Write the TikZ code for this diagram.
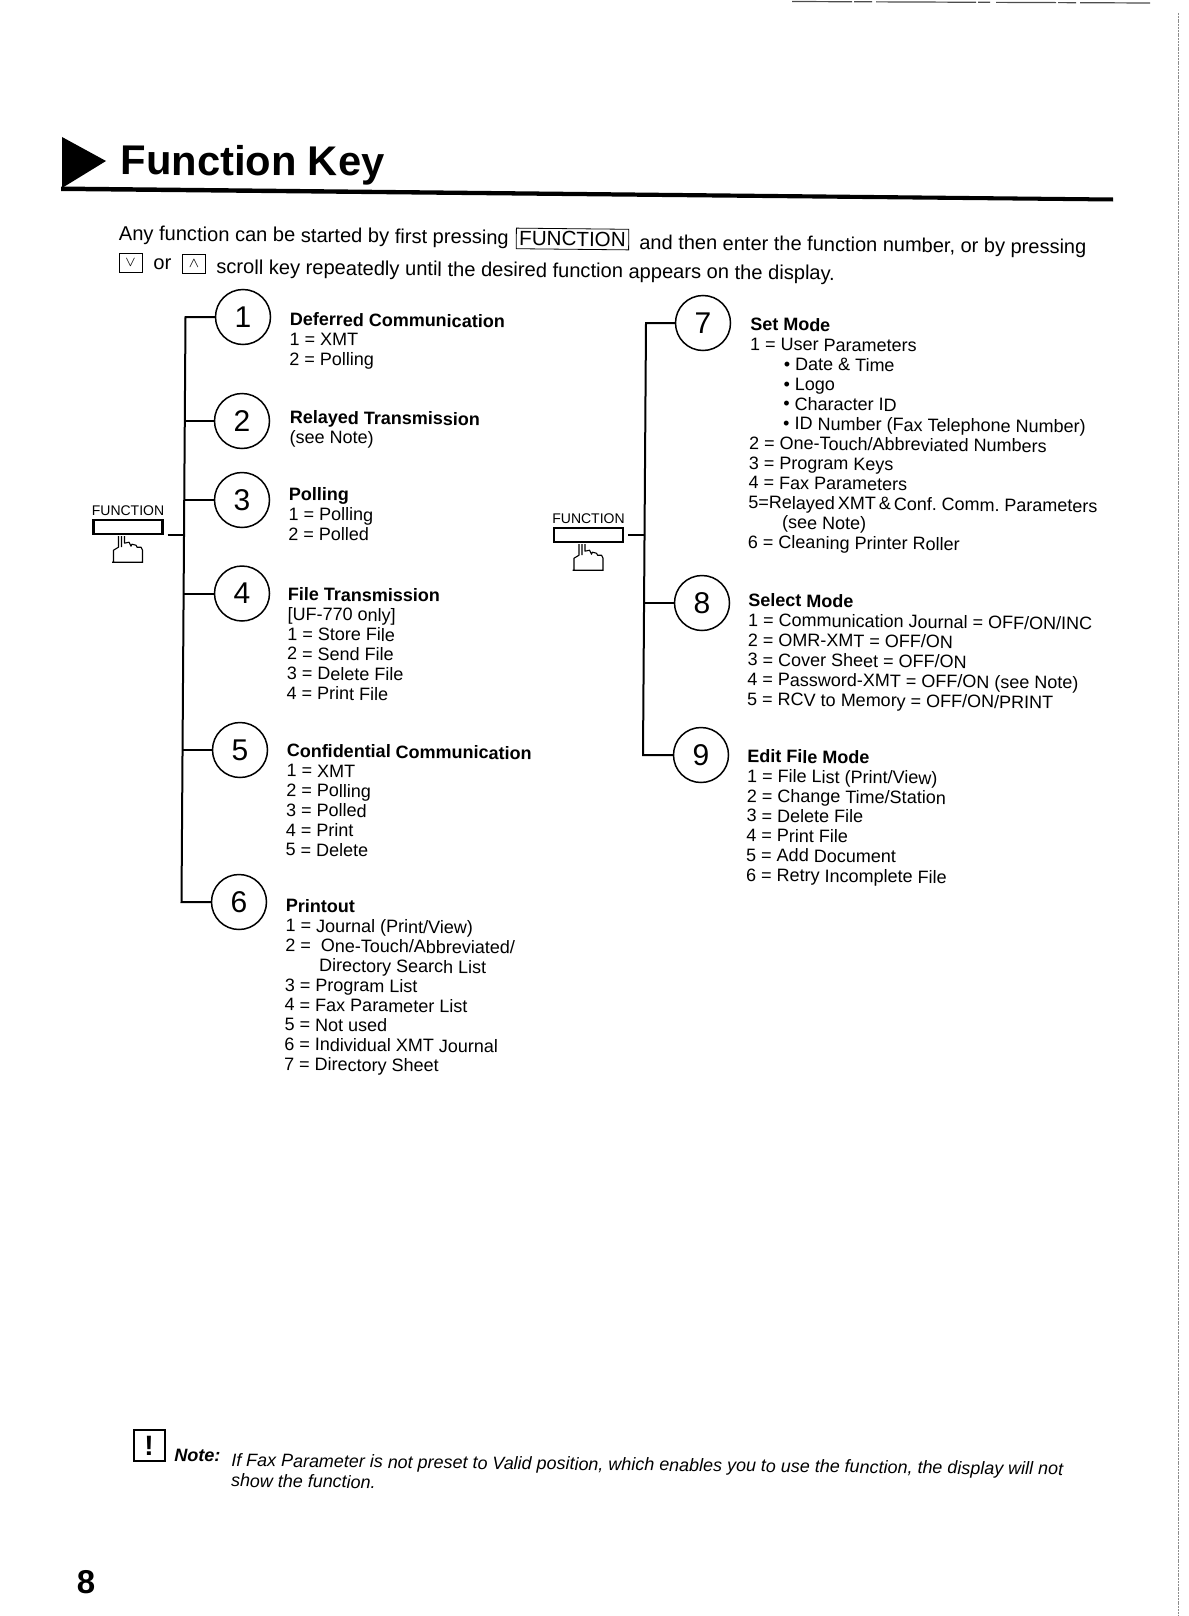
\documentclass[tikz,border=0pt]{standalone}
\usepackage{fontspec}
\setmainfont{Liberation Sans}
\usetikzlibrary{positioning}
\tikzset{
  body/.style={anchor=north west, align=left, inner sep=0pt, rotate=-0.6,
    font=\fontsize{9.0}{9.9}\selectfont},
  line1/.style={anchor=west, inner sep=0pt, rotate=-0.6,
    font=\fontsize{10.05}{12}\selectfont},
  num/.style={circle, draw=black, line width=0.75pt, fill=white, minimum size=27.5pt,
    inner sep=0pt, font=\fontsize{15}{15}\selectfont},
  trunk/.style={line width=1pt},
  keybox/.style={rectangle, draw=black, line width=1.2pt, minimum width=34.5pt,
    minimum height=7pt, inner sep=0pt},
  keylbl/.style={inner sep=0pt, font=\fontsize{7}{7}\selectfont},
  small/.style={rectangle, draw=black, line width=0.4pt, inner sep=0pt,
    minimum width=11.5pt, minimum height=9.5pt, font=\scriptsize},
  hand/.pic={
    \draw[line width=0.55pt, line join=round]
      (-14.5,27) -- (-14.5,15) -- (-9.5,12) -- (-9.5,1)
      (-6.5,1) -- (-6.5,12)
      (-3.5,1) -- (-3.5,8) -- (1,7) -- (3,11) -- (4,9) -- (8,10) -- (9,12) -- (13,12) -- (14.5,15) -- (14.5,27)
      (-16,27) -- (15,27);
  },
}
\begin{document}
\begin{tikzpicture}[x=0.5pt,y=-0.5pt]
\useasboundingbox (0,0) rectangle (1188,1616);
% scan marks
\draw[black!45, line width=0.8pt, dash pattern=on 1pt off 0.4pt] (1178.5,13) -- (1178.5,1616);
\draw[black!70, line width=0.6pt, dash pattern=on 30pt off 1pt on 9pt off 2pt on 50pt off 1pt on 6pt off 3pt] (792,1.5) -- (1150,3);
% heading
\fill[black] (62,137) -- (106,161) -- (62,188) -- cycle;
\fill[black] (61,186.5) -- (1113,197.5) -- (1113,201.5) -- (61,191) -- cycle;
\node[anchor=west, inner sep=0pt, rotate=-0.3, font=\fontsize{20.8}{24}\selectfont\bfseries] (title) at (120.5,164) {Function Key};
% intro
\node[line1] (any)  at (118.5,235) {Any function can be started by first pressing};
\node[rectangle, draw=black, line width=0.4pt, inner sep=1.5pt, rotate=-0.6, font=\fontsize{10.3}{12}\selectfont] (fkey) at (572.5,239) {FUNCTION};
\node[line1, font=\fontsize{10}{12}\selectfont] (then) at (639,244) {and then enter the function number, or by pressing};
\node[small] (down) at (130.5,263) {$\vee$};
\node[line1] (orw)  at (153,264.5) {or};
\node[small] (up)   at (194,264) {$\wedge$};
\node[line1] (scroll) at (216,268.5) {scroll key repeatedly until the desired function appears on the display.};
% keys
\node[keybox] (keyA) at (128,527) {};
\node[keylbl, above=1.5pt of keyA] (lblA) {FUNCTION};
\pic at (keyA.south) {hand};
\node[keybox] (keyB) at (588.5,535) {};
\node[keylbl, above=1.5pt of keyB] (lblB) {FUNCTION};
\pic at (keyB.south) {hand};
% circles
\node[num] (c1) at (243,317) {1};
\node[num] (c2) at (242,421) {2};
\node[num] (c3) at (242,500) {3};
\node[num] (c4) at (242,593.5) {4};
\node[num] (c5) at (240,750) {5};
\node[num] (c6) at (239,902) {6};
\node[num] (c7) at (703,323) {7};
\node[num] (c8) at (702,603) {8};
\node[num] (c9) at (701,755) {9};
% trunk ends
\coordinate (t1) at (185.5,317);
\coordinate (t2) at (185,421);
\coordinate (t3) at (184.5,500);
\coordinate (t0) at (184.5,535.2);
\coordinate (t4) at (184,593.5);
\coordinate (t5) at (183,750);
\coordinate (t6) at (181.5,902);
\coordinate (t7) at (646,323);
\coordinate (t0b) at (645,535);
\coordinate (t8) at (644.5,603);
\coordinate (t9) at (643,755);
% connectors
\draw[trunk] (c1) -- (t1) -- (t6) -- (c6);
\draw[trunk] (c2) -- (t2);
\draw[trunk] (c3) -- (t3);
\draw[trunk] (c4) -- (t4);
\draw[trunk] (c5) -- (t5);
\draw[trunk] ([xshift=2pt]keyA.south east) -- (t0);
\draw[trunk] (c7) -- (t7) -- (t9) -- (c9);
\draw[trunk] (c8) -- (t8);
\draw[trunk] ([xshift=2pt]keyB.east) -- (t0b);
% left column
\node[body] (b1) at (289.5,312) {\textbf{Deferred Communication}\\1 = XMT\\2 = Polling};
\node[body] (b2) at (289.5,410) {\textbf{Relayed Transmission}\\(see Note)};
\node[body] (b3) at (288.5,487) {\textbf{Polling}\\1 = Polling\\2 = Polled};
\node[body] (b4) at (287.5,587) {\textbf{File Transmission}\\{[}UF-770 only{]}\\1 = Store File\\2 = Send File\\3 = Delete File\\4 = Print File};
\node[body] (b5) at (286.5,743.5) {\textbf{Confidential Communication}\\1 = XMT\\2 = Polling\\3 = Polled\\4 = Print\\5 = Delete};
\node[body] (b6) at (285.5,898.5) {\textbf{Printout}\\1 = Journal (Print/View)\\2 =\hspace*{5pt}One-Touch/Abbreviated/\\\hspace*{17pt}Directory Search List\\3 = Program List\\4 = Fax Parameter List\\5 = Not used\\6 = Individual XMT Journal\\7 = Directory Sheet};
% right column
\node[body] (b7) at (750,317) {\textbf{Set Mode}\\1 = User Parameters\\\hspace*{17pt}\textbullet\ Date \& Time\\\hspace*{17pt}\textbullet\ Logo\\\hspace*{17pt}\textbullet\ Character ID\\\hspace*{17pt}\textbullet\ ID Number (Fax Telephone Number)\\2 = One-Touch/Abbreviated Numbers\\3 = Program Keys\\4 = Fax Parameters\\{\spaceskip=1.5pt 5=Relayed XMT \& Conf. Comm. Parameters}\\\hspace*{17pt}(see Note)\\6 = Cleaning Printer Roller};
\node[body] (b8) at (748,593) {\textbf{Select Mode}\\1 = Communication Journal = OFF/ON/INC\\2 = OMR-XMT = OFF/ON\\3 = Cover Sheet = OFF/ON\\4 = Password-XMT = OFF/ON (see Note)\\5 = RCV to Memory = OFF/ON/PRINT};
\node[body] (b9) at (747,749) {\textbf{Edit File Mode}\\1 = File List (Print/View)\\2 = Change Time/Station\\3 = Delete File\\4 = Print File\\5 = Add Document\\6 = Retry Incomplete File};
% note
\node[rectangle, draw=black, line width=1pt, minimum size=15.5pt, inner sep=0pt, font=\fontsize{14}{14}\selectfont\bfseries] (warn) at (149,1445.5) {!};
\node[anchor=west, inner sep=0pt, rotate=-0.6, font=\fontsize{9}{11}\selectfont\bfseries\itshape] (note) at (174,1455) {Note:};
\node[anchor=north west, align=left, inner sep=0pt, rotate=-0.6, font=\fontsize{8.97}{10.2}\selectfont\itshape] (ntxt) at (231,1453) {If Fax Parameter is not preset to Valid position, which enables you to use the function, the display will not\\show the function.};
% page
\node[inner sep=0pt, font=\fontsize{16.5}{16.5}\selectfont\bfseries] (page) at (86,1582) {8};
\end{tikzpicture}
\end{document}
